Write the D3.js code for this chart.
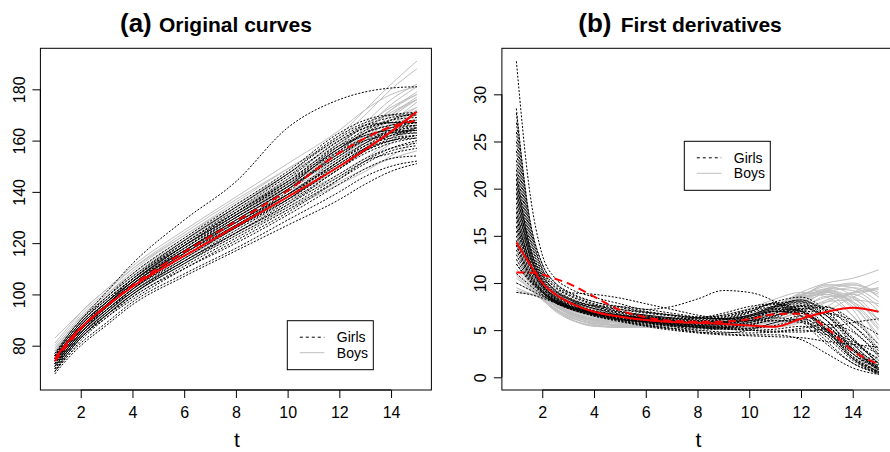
<html>
<head>
  <title>Growth curves</title>
  <script src="https://d3js.org/d3.v7.min.js"></script>
  <style>
    body { margin: 0; background: #fff; }
    text { font-family: "Liberation Sans", Arial, Helvetica, sans-serif; fill: #000; }
  </style>
</head>
<body>
<script>
// ---- data ----
var tA = [1, 1.5, 2, 3, 4, 6, 8, 10, 12, 13, 14, 15];

var girlsA = [
  [76, 84, 90, 101, 112, 129, 144, 165, 176, 179, 180.5, 181],
  [72, 78, 83, 92, 100, 112, 124, 135, 149, 155, 159, 161],
  [74, 80, 86, 95, 104, 117, 130, 142, 157, 162, 164, 165],
  [70, 76, 81, 89, 97, 108, 118, 129, 140, 146, 150, 152],
  [69, 75, 80, 88, 96, 107, 117, 127, 137, 143, 148, 151],
  [75, 81, 87, 96, 104, 118, 131, 143, 158, 164, 168, 169],
  [73, 79, 85, 94, 102, 115, 127, 139, 153, 159, 163, 164],
  [76, 83, 89, 98, 106, 120, 133, 146, 160, 166, 169, 170],
  [71, 77, 83, 92, 100, 112, 123, 134, 146, 152, 155, 157],
  [74, 81, 87, 96, 105, 119, 132, 144, 159, 165, 167, 168],
  [72, 78, 84, 93, 101, 113, 125, 137, 151, 157, 160, 161],
  [75, 82, 88, 97, 105, 118, 130, 142, 154, 161, 165, 167],
  [73, 80, 86, 95, 103, 116, 128, 140, 155, 160, 162, 163],
  [70, 76, 82, 91, 99, 110, 120, 131, 143, 149, 153, 154],
  [77, 84, 90, 99, 107, 121, 134, 147, 162, 167, 170, 171],
  [74, 80, 86, 95, 103, 116, 127, 139, 152, 158, 163, 166],
  [71, 78, 84, 93, 102, 115, 127, 138, 150, 156, 160, 162],
  [76, 82, 88, 97, 106, 119, 131, 144, 158, 162, 164, 164],
  [72, 79, 85, 94, 102, 114, 126, 138, 152, 158, 161, 162],
  [75, 81, 87, 96, 104, 117, 129, 141, 156, 163, 168, 171],
  [73, 79, 85, 94, 101, 113, 124, 135, 147, 153, 157, 159],
  [74, 81, 87, 96, 104, 117, 129, 141, 155, 161, 165, 166],
  [70, 77, 83, 92, 100, 113, 124, 136, 149, 156, 161, 165],
  [76, 82, 88, 97, 105, 119, 132, 145, 160, 165, 167, 167],
  [73, 80, 86, 96, 105, 119, 131, 143, 156, 161, 163, 163],
  [75, 82, 88, 97, 105, 117, 128, 139, 152, 159, 164, 166],
  [71, 78, 84, 93, 101, 114, 126, 137, 150, 157, 162, 164],
  [74, 81, 87, 97, 106, 121, 134, 147, 161, 166, 167, 167],
  [72, 78, 84, 92, 99, 111, 122, 133, 145, 151, 156, 158],
  [76, 83, 89, 98, 106, 120, 132, 144, 157, 163, 166, 167],
  [73, 79, 85, 94, 102, 115, 126, 137, 150, 156, 160, 162],
  [74, 80, 86, 95, 103, 117, 129, 141, 154, 160, 163, 164],
  [70, 77, 83, 91, 98, 110, 121, 132, 145, 152, 157, 160],
  [75, 81, 87, 96, 104, 118, 130, 142, 157, 163, 166, 168],
  [72, 79, 85, 95, 103, 116, 128, 139, 151, 157, 162, 165],
  [77, 83, 89, 99, 108, 122, 135, 148, 163, 168, 170, 170]
];

var boysA = [
  [78, 85, 91, 100, 109, 123, 136, 149, 162, 172, 182, 191],
  [80, 86, 92, 101, 110, 124, 137, 149, 161, 170, 180, 188],
  [76, 82, 88, 97, 105, 118, 130, 141, 152, 160, 169, 176],
  [74, 80, 86, 94, 102, 114, 125, 136, 146, 152, 159, 166],
  [77, 83, 89, 98, 106, 120, 132, 144, 156, 164, 172, 178],
  [73, 79, 85, 93, 100, 112, 123, 133, 143, 148, 154, 160],
  [75, 81, 87, 96, 104, 117, 128, 139, 150, 157, 166, 173],
  [83, 88, 93, 102, 110, 123, 135, 147, 159, 166, 173, 178],
  [76, 82, 88, 97, 105, 119, 131, 142, 153, 159, 165, 170],
  [72, 79, 85, 93, 101, 113, 124, 134, 144, 149, 153, 156],
  [78, 84, 90, 99, 107, 121, 133, 145, 157, 165, 174, 181],
  [75, 81, 87, 95, 103, 116, 127, 138, 149, 156, 163, 168],
  [77, 83, 89, 98, 106, 119, 131, 142, 153, 161, 170, 177],
  [74, 80, 86, 95, 103, 116, 127, 137, 147, 153, 160, 165],
  [79, 85, 91, 100, 108, 122, 134, 146, 158, 167, 176, 182],
  [76, 82, 88, 96, 104, 117, 129, 140, 151, 158, 167, 175],
  [77, 84, 90, 99, 107, 121, 133, 144, 155, 162, 170, 176],
  [75, 82, 88, 97, 105, 119, 131, 143, 155, 163, 172, 179],
  [79, 85, 91, 100, 108, 121, 133, 144, 156, 164, 171, 176],
  [73, 80, 86, 95, 103, 116, 127, 138, 149, 157, 165, 171],
  [81, 87, 93, 102, 111, 125, 138, 151, 164, 172, 178, 181],
  [76, 83, 89, 98, 106, 120, 132, 143, 154, 161, 168, 173],
  [74, 81, 87, 96, 104, 117, 128, 139, 150, 157, 163, 169],
  [78, 84, 90, 99, 107, 120, 132, 143, 154, 160, 166, 172]
];

var girlsMeanA = [74, 80.5, 86.5, 95.5, 103.5, 116.5, 128.5, 140.5, 155.2, 161, 165.4, 167.8];
var boysMeanA  = [75, 81.5, 87, 95.5, 103, 115, 126.5, 138, 150, 156.5, 163.5, 171.3];

var tB = [1, 1.5, 2, 2.5, 3, 4, 5, 6, 7, 8, 9, 10, 11, 12, 13, 14, 15];

var girlsB = [
  [33.5, 20, 13, 10.5, 9.5, 8.5, 7.8, 7.2, 7.5, 8.3, 9.2, 9.0, 8.0, 6.0, 3.5, 1.5, 0.5],
  [28, 17, 12, 10, 9, 8, 7.5, 7, 6.6, 6.3, 6.2, 6.5, 7.0, 6.5, 4.5, 2.0, 0.6],
  [27, 16.5, 11.5, 9.6, 8.8, 7.8, 7.2, 6.8, 6.5, 6.2, 6.4, 7.2, 7.8, 7.0, 4.8, 2.5, 1.0],
  [22, 14, 10.5, 9, 8.3, 7.3, 6.8, 6.4, 6.0, 5.7, 5.6, 5.8, 6.5, 7.3, 6.5, 4.0, 1.5],
  [20, 13.5, 10.3, 8.8, 8.0, 7.0, 6.4, 6.0, 5.6, 5.3, 5.1, 5.2, 5.8, 6.5, 5.5, 3.0, 1.0],
  [19, 13, 10, 8.7, 8.0, 7.1, 6.6, 6.2, 5.8, 5.5, 5.4, 5.8, 6.8, 7.5, 6.0, 3.0, 0.8],
  [18, 12.5, 9.8, 8.5, 7.7, 6.8, 6.2, 5.8, 5.4, 5.0, 4.8, 4.7, 4.8, 5.0, 4.5, 3.0, 1.5],
  [17, 12.2, 9.7, 8.4, 7.6, 6.7, 6.1, 5.6, 5.2, 4.8, 4.6, 4.5, 4.5, 4.0, 2.5, 1.0, 0.3],
  [16, 11.8, 9.5, 8.3, 7.6, 6.9, 6.5, 6.3, 6.2, 6.3, 6.8, 7.5, 7.8, 6.5, 3.8, 1.5, 0.4],
  [15.5, 11.5, 9.3, 8.2, 7.5, 6.6, 6.0, 5.5, 5.1, 4.8, 4.7, 5.0, 5.8, 6.2, 5.0, 2.8, 1.2],
  [15, 11.3, 9.2, 8.1, 7.4, 6.5, 5.9, 5.4, 5.0, 4.7, 4.5, 4.4, 4.3, 4.2, 3.8, 3.5, 3.2],
  [14.5, 11, 9.1, 8.0, 7.4, 6.7, 6.4, 6.2, 6.0, 5.8, 5.9, 6.5, 7.0, 6.8, 5.5, 3.0, 0.8],
  [14, 10.8, 9.0, 7.9, 7.3, 6.5, 6.1, 5.9, 5.7, 5.6, 5.7, 6.0, 6.6, 7.0, 6.8, 5.5, 3.0],
  [13, 10.5, 9.0, 8.0, 7.4, 6.7, 6.2, 5.8, 5.5, 5.3, 5.2, 5.0, 4.8, 4.8, 5.2, 5.8, 6.2],
  [12.5, 10.4, 9.0, 8.1, 7.6, 7.0, 6.6, 6.3, 6.1, 6.0, 6.2, 6.8, 7.5, 7.8, 6.5, 4.0, 1.8],
  [12, 10.2, 8.8, 7.9, 7.3, 6.6, 6.2, 5.9, 5.6, 5.4, 5.5, 6.2, 7.2, 7.6, 6.0, 3.2, 1.0],
  [11, 9.8, 8.7, 7.9, 7.4, 6.8, 6.4, 6.1, 5.8, 5.5, 5.3, 5.2, 5.5, 6.2, 6.8, 6.0, 4.5],
  [10, 9.3, 8.6, 8.0, 7.5, 6.8, 6.2, 5.8, 5.5, 5.3, 5.3, 5.6, 6.5, 7.5, 7.2, 5.0, 2.5],
  [9, 8.8, 8.4, 7.9, 7.4, 6.8, 6.3, 5.9, 5.6, 5.4, 5.4, 5.6, 6.0, 6.0, 4.5, 2.0, 0.5],
  [24, 15, 11, 9.2, 8.4, 7.5, 7.0, 6.6, 6.3, 6.1, 6.3, 7.0, 8.0, 8.5, 7.0, 4.0, 1.5],
  [18.5, 13, 10.2, 8.8, 8.0, 7.6, 7.5, 7.2, 6.8, 6.4, 6.2, 6.6, 7.5, 8.2, 6.5, 3.5, 1.2],
  [16.5, 12, 9.5, 8.3, 7.6, 6.6, 6.0, 5.5, 5.2, 5.0, 5.2, 6.0, 7.0, 6.8, 4.8, 2.2, 0.6],
  [21, 14, 10.8, 9.3, 8.5, 7.5, 6.9, 6.5, 6.2, 6.0, 6.1, 6.6, 7.3, 7.0, 5.0, 2.5, 0.8],
  [26, 16, 11.5, 9.8, 9.0, 8.8, 8.4, 7.8, 7.2, 6.6, 6.2, 6.0, 6.0, 5.8, 5.0, 3.8, 2.5],
  [25, 15.5, 11.2, 9.5, 8.7, 7.7, 7.0, 6.5, 6.1, 5.8, 5.8, 6.2, 7.0, 7.2, 5.5, 2.8, 0.7],
  [19.5, 13.2, 10.2, 8.8, 8.1, 7.3, 6.9, 6.6, 6.3, 6.0, 5.9, 6.0, 6.3, 6.0, 4.2, 1.8, 0.4],
  [17.5, 12.5, 9.8, 8.6, 7.9, 7.0, 6.5, 6.2, 6.0, 5.9, 6.1, 6.9, 7.9, 8.0, 6.0, 3.0, 0.9],
  [23, 14.5, 10.8, 9.2, 8.4, 7.6, 7.2, 6.9, 6.6, 6.3, 6.2, 6.3, 6.8, 7.6, 7.5, 5.5, 2.8],
  [16, 12, 9.6, 8.4, 7.7, 6.9, 6.4, 6.0, 5.7, 5.4, 5.2, 5.0, 4.9, 5.2, 5.6, 4.8, 2.2],
  [14, 11, 9.2, 8.2, 7.6, 6.9, 6.5, 6.2, 5.9, 5.7, 5.8, 6.4, 7.4, 8.0, 7.0, 4.2, 1.3],
  [20.5, 13.5, 10.4, 8.9, 8.1, 7.0, 6.4, 6.0, 5.7, 5.5, 5.6, 6.2, 7.2, 7.0, 5.2, 2.5, 0.5],
  [13.5, 10.7, 9.1, 8.1, 7.5, 6.8, 6.3, 5.9, 5.6, 5.3, 5.1, 5.0, 5.1, 5.4, 4.8, 3.5, 2.0],
  [17, 12.3, 9.8, 8.5, 7.8, 7.0, 6.6, 6.4, 6.3, 6.3, 6.6, 7.2, 7.7, 7.2, 5.0, 2.0, 0.3],
  [28.5, 17, 12, 10, 9.1, 8.0, 7.4, 6.9, 6.6, 6.4, 6.5, 7.0, 7.5, 7.0, 5.0, 2.2, 0.6],
  [12, 10.3, 9.0, 8.1, 7.5, 6.7, 6.1, 5.7, 5.4, 5.2, 5.2, 5.5, 6.3, 7.2, 7.4, 6.0, 3.5],
  [21.5, 14, 10.7, 9.1, 8.3, 7.3, 6.7, 6.3, 6.0, 5.8, 5.9, 6.5, 7.6, 8.2, 6.8, 3.6, 1.0]
];

var boysB = [
  [22.5, 14, 10.5, 9, 8.2, 7.2, 6.6, 6.2, 6.0, 5.9, 6.0, 6.5, 7.5, 9.0, 10.0, 10.5, 11.4],
  [21, 13.5, 10, 8.6, 7.8, 6.9, 6.4, 6.0, 5.8, 5.7, 5.8, 6.2, 7.0, 8.5, 9.8, 9.5, 8.0],
  [18, 12.5, 9.6, 8.2, 7.4, 6.5, 6.0, 5.7, 5.5, 5.4, 5.4, 5.6, 6.2, 7.5, 9.2, 9.8, 9.0],
  [16, 11.5, 9.2, 7.9, 7.1, 6.2, 5.8, 5.6, 5.5, 5.4, 5.3, 5.3, 5.6, 6.5, 8.0, 9.0, 10.2],
  [14, 10.8, 8.8, 7.6, 6.8, 6.0, 5.7, 5.6, 5.5, 5.4, 5.3, 5.2, 5.3, 5.8, 7.0, 8.5, 9.5],
  [12.5, 10.2, 8.5, 7.3, 6.5, 5.7, 5.5, 5.5, 5.5, 5.5, 5.4, 5.3, 5.4, 6.0, 7.5, 8.8, 7.0],
  [11, 9.6, 8.3, 7.0, 6.2, 5.5, 5.4, 5.5, 5.6, 5.6, 5.5, 5.5, 6.0, 7.2, 8.6, 8.5, 6.0],
  [10, 9.3, 8.4, 7.2, 6.3, 5.4, 5.3, 5.5, 5.7, 5.8, 5.8, 5.9, 6.6, 8.0, 9.0, 7.5, 4.5],
  [9.2, 8.9, 8.5, 7.5, 6.7, 5.8, 5.5, 5.5, 5.6, 5.7, 5.9, 6.3, 7.2, 8.6, 8.8, 6.5, 3.0],
  [9.0, 8.8, 8.6, 7.8, 7.0, 6.0, 5.5, 5.3, 5.2, 5.2, 5.3, 5.5, 6.0, 7.0, 8.0, 8.2, 7.8],
  [13, 10.5, 8.7, 7.6, 6.9, 6.2, 5.9, 5.8, 5.8, 5.9, 6.1, 6.6, 7.6, 8.8, 9.0, 7.8, 5.0],
  [15, 11.2, 9.0, 7.8, 7.0, 6.3, 6.0, 5.9, 6.0, 6.2, 6.6, 7.3, 8.3, 9.0, 8.5, 6.5, 3.5],
  [17, 12, 9.4, 8.0, 7.2, 6.4, 6.0, 5.8, 5.7, 5.6, 5.6, 5.8, 6.5, 7.8, 9.4, 10.0, 8.5],
  [19.5, 13, 9.8, 8.3, 7.5, 6.6, 6.2, 6.0, 5.9, 5.8, 5.8, 6.0, 6.8, 8.2, 9.0, 8.0, 6.2],
  [10.5, 9.5, 8.4, 7.2, 6.3, 5.5, 5.3, 5.4, 5.5, 5.6, 5.7, 6.0, 7.0, 8.4, 8.8, 7.2, 2.2],
  [12, 10, 8.6, 7.5, 6.8, 6.1, 5.8, 5.7, 5.6, 5.6, 5.7, 5.9, 6.5, 7.5, 8.5, 9.0, 9.5],
  [15.5, 11.5, 9.0, 7.7, 6.9, 6.1, 5.8, 5.7, 5.7, 5.7, 5.8, 6.1, 6.9, 8.2, 9.4, 9.2, 7.5],
  [11.5, 9.8, 8.4, 7.3, 6.6, 5.8, 5.5, 5.4, 5.4, 5.4, 5.5, 5.8, 6.5, 7.8, 9.0, 9.5, 8.8],
  [20, 13.2, 9.9, 8.4, 7.6, 6.7, 6.2, 5.9, 5.8, 5.8, 5.9, 6.2, 7.1, 8.6, 9.6, 8.6, 5.5],
  [9.5, 8.9, 8.3, 7.3, 6.5, 5.6, 5.3, 5.3, 5.4, 5.5, 5.6, 5.7, 6.1, 7.0, 8.2, 8.9, 9.3],
  [13.5, 10.6, 8.8, 7.6, 6.8, 5.9, 5.5, 5.4, 5.4, 5.5, 5.7, 6.1, 7.0, 8.4, 9.2, 8.4, 6.0],
  [17.5, 12.2, 9.5, 8.1, 7.3, 6.5, 6.1, 5.9, 5.8, 5.8, 5.9, 6.3, 7.3, 8.8, 9.3, 7.8, 4.0],
  [10.8, 9.4, 8.2, 7.1, 6.4, 5.7, 5.6, 5.7, 5.8, 5.9, 6.0, 6.4, 7.3, 8.6, 9.8, 9.8, 8.5],
  [14.5, 11, 8.9, 7.7, 6.9, 6.1, 5.8, 5.7, 5.7, 5.8, 6.0, 6.4, 7.4, 8.7, 9.1, 8.0, 5.2]
];

var girlsMeanB = [11.1, 11.1, 10.9, 10.45, 9.96, 8.55, 7.13, 6.36, 6.0, 5.9, 5.9, 6.15, 6.7, 6.75, 5.2, 2.8, 1.4];
var boysMeanB  = [14.3, 12.1, 10.0, 8.8, 8.0, 6.95, 6.42, 6.07, 5.85, 5.79, 5.65, 5.5, 5.37, 6.2, 6.95, 7.38, 6.96];

var xTicks = [2, 4, 6, 8, 10, 12, 14];
var yTicksA = [80, 100, 120, 140, 160, 180];
var yTicksB = [0, 5, 10, 15, 20, 25, 30];
var legendLabels = ["Girls", "Boys"];

// ---- drawing ----
var width = 890, height = 452;

var svg = d3.select("body").append("svg")
  .attr("width", width)
  .attr("height", height);

function panel(opt) {
  var x = d3.scaleLinear().domain([0.44, 15.56]).range([opt.left, opt.right]);
  var y = d3.scaleLinear().domain(opt.yDomain).range([390, 48.3]);
  var g = svg.append("g");

  var clipId = "clip" + opt.id;
  g.append("clipPath").attr("id", clipId)
    .append("rect")
    .attr("x", opt.left).attr("y", 48.3)
    .attr("width", opt.right - opt.left).attr("height", 390 - 48.3);

  var plot = g.append("g").attr("clip-path", "url(#" + clipId + ")");

  var line = d3.line()
    .x(function(d, i) { return x(opt.t[i]); })
    .y(function(d) { return y(d); })
    .curve(d3.curveMonotoneX);

  plot.selectAll("path.boy")
    .data(opt.boys)
    .enter().append("path")
    .attr("class", "boy")
    .attr("d", line)
    .attr("fill", "none")
    .attr("stroke", "#bebebe")
    .attr("stroke-width", 1);

  plot.selectAll("path.girl")
    .data(opt.girls)
    .enter().append("path")
    .attr("class", "girl")
    .attr("d", line)
    .attr("fill", "none")
    .attr("stroke", "#000")
    .attr("stroke-width", 1)
    .attr("stroke-dasharray", "2 1.6");

  plot.append("path")
    .attr("d", line(opt.girlsMean))
    .attr("fill", "none")
    .attr("stroke", "#ff0000")
    .attr("stroke-width", 2)
    .attr("stroke-dasharray", "8 5");

  plot.append("path")
    .attr("d", line(opt.boysMean))
    .attr("fill", "none")
    .attr("stroke", "#ff0000")
    .attr("stroke-width", 2);

  // box
  g.append("rect")
    .attr("x", opt.left).attr("y", 48.3)
    .attr("width", opt.right - opt.left).attr("height", 390 - 48.3)
    .attr("fill", "none")
    .attr("stroke", "#000")
    .attr("stroke-width", 1);

  // x axis
  var xa = g.append("g").attr("transform", "translate(0,390)")
    .call(d3.axisBottom(x).tickValues(xTicks).tickSize(8).tickPadding(5).tickFormat(d3.format("d")));
  xa.select(".domain").attr("d", "M" + x(xTicks[0]) + ",0H" + x(xTicks[xTicks.length - 1]));
  xa.selectAll("text").attr("font-size", 16).attr("dy", null).attr("y", 28);
  xa.attr("font-family", null);

  // y axis
  var ya = g.append("g").attr("transform", "translate(" + opt.left + ",0)")
    .call(d3.axisLeft(y).tickValues(opt.yTicks).tickSize(8).tickFormat(d3.format("d")));
  ya.attr("font-family", null);
  ya.select(".domain").attr("d", "M0," + y(opt.yTicks[0]) + "V" + y(opt.yTicks[opt.yTicks.length - 1]));
  ya.selectAll("text")
    .attr("font-size", 16)
    .attr("x", null).attr("dy", null)
    .attr("text-anchor", "middle")
    .attr("transform", "translate(-15.5,0) rotate(-90)");

  // axis title
  g.append("text")
    .attr("x", (opt.left + opt.right) / 2 + 1)
    .attr("y", 447)
    .attr("text-anchor", "middle")
    .attr("font-size", 21)
    .text("t");

  // main title
  var title = g.append("text").attr("y", 32).attr("font-weight", "bold");
  title.append("tspan").attr("x", opt.titleX).attr("font-size", 26).text(opt.tag);
  title.append("tspan").attr("x", opt.titleX + opt.tagW).attr("font-size", 21).text(opt.title);

  // legend
  var lg = g.append("g");
  lg.append("rect")
    .attr("x", opt.legend[0]).attr("y", opt.legend[1])
    .attr("width", 86).attr("height", 49)
    .attr("fill", "#fff")
    .attr("stroke", "#000");
  legendLabels.forEach(function(lab, i) {
    var ly = opt.legend[1] + 16.5 + i * 15.5;
    lg.append("line")
      .attr("x1", opt.legend[0] + 12.5).attr("x2", opt.legend[0] + 37)
      .attr("y1", ly).attr("y2", ly)
      .attr("stroke", i === 0 ? "#000" : "#bebebe")
      .attr("stroke-width", 1)
      .attr("stroke-dasharray", i === 0 ? "3 3" : null);
    lg.append("text")
      .attr("x", opt.legend[0] + 49.5)
      .attr("y", ly + 5)
      .attr("font-size", 14)
      .text(lab);
  });
}

panel({
  id: "a", left: 40.4, right: 431.4, yDomain: [62.72, 196], yTicks: yTicksA,
  t: tA, girls: girlsA, boys: boysA, girlsMean: girlsMeanA, boysMean: boysMeanA,
  titleX: 120, tagW: 39, tag: "(a)", title: "Original curves",
  legend: [287.3, 320.7]
});

panel({
  id: "b", left: 501.9, right: 893.1, yDomain: [-1.346, 34.88], yTicks: yTicksB,
  t: tB, girls: girlsB, boys: boysB, girlsMean: girlsMeanB, boysMean: boysMeanB,
  titleX: 578.3, tagW: 42.4, tag: "(b)", title: "First derivatives",
  legend: [684.3, 141.3]
});
</script>
</body>
</html>
